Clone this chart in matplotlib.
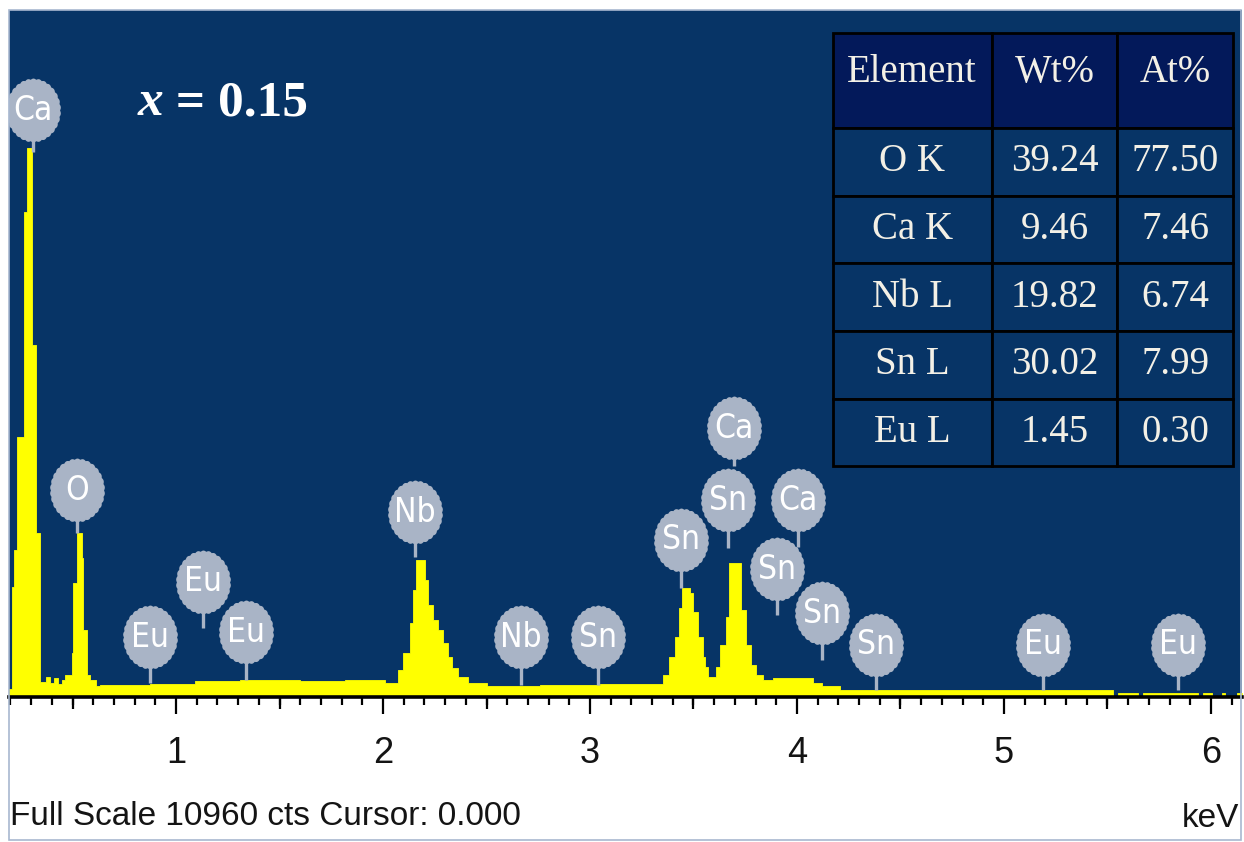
import numpy as np
import matplotlib.pyplot as plt
from matplotlib.path import Path
from matplotlib.patches import Rectangle
from matplotlib.ticker import MultipleLocator
from matplotlib.font_manager import FontProperties, fontManager
import matplotlib.transforms as mtransforms

# EDS spectrum: left edge of each step (keV) and its counts
energy_kev = [0.193, 0.208, 0.217, 0.232, 0.266, 0.280, 0.304, 0.324, 0.343, 0.372,
              0.391, 0.411, 0.430, 0.449, 0.464, 0.498, 0.502, 0.522, 0.546, 0.551,
              0.570, 0.585, 0.614, 0.633, 0.874, 1.092, 1.309, 1.599, 1.816, 2.010,
              2.072, 2.097, 2.130, 2.145, 2.159, 2.203, 2.217, 2.242, 2.266, 2.290,
              2.314, 2.333, 2.362, 2.411, 2.502, 2.758, 3.048, 3.353, 3.382, 3.411,
              3.430, 3.444, 3.483, 3.498, 3.522, 3.546, 3.556, 3.570, 3.609, 3.628,
              3.657, 3.671, 3.729, 3.754, 3.778, 3.802, 3.836, 3.884, 4.077, 4.121,
              4.208, 5.527, 5.551, 5.647, 5.671, 5.937, 5.961, 6.005, 6.053, 6.068,
              6.126, 6.150]
counts = [130, 1755, 2345, 4150, 7740, 8760, 5610, 2615, 240, 320,
          225, 305, 205, 270, 350, 700, 1820, 2615, 2215, 1070,
          350, 270, 175, 190, 205, 255, 270, 255, 270, 225,
          430, 700, 1180, 1705, 2185, 1865, 1465, 1230, 1070, 860,
          640, 465, 320, 225, 175, 190, 205, 350, 640, 955,
          1420, 1740, 1660, 1355, 955, 640, 480, 320, 480, 830,
          1275, 2135, 1390, 830, 510, 350, 270, 305, 225, 175,
          110, 0, 70, 0, 70, 0, 70, 0, 70, 0,
          70, 70]
full_scale = 10960

# peak markers: element, line energy, marker height and where the stem ends
peak_names = ["Ca", "O", "Eu", "Eu", "Eu", "Nb", "Nb", "Sn", "Sn", "Sn",
              "Ca", "Ca", "Sn", "Sn", "Sn", "Eu", "Eu"]
peak_kev = [0.309, 0.522, 0.874, 1.130, 1.338, 2.155, 2.667, 3.039, 3.440, 3.667,
            3.696, 4.005, 3.903, 4.121, 4.382, 5.188, 5.841]
label_counts = [9360, 3300, 955, 1835, 1035, 2950, 955, 955, 2505, 3140,
                4290, 3140, 2040, 1340, 830, 830, 830]
stem_end = [8690, 2615, 225, 1100, 270, 2235, 190, 190, 1740, 2380,
            3685, 2395, 1310, 590, 110, 110, 110]

# quantification table
columns = ["Element", "Wt%", "At%"]
elements = ["O K", "Ca K", "Nb L", "Sn L", "Eu L"]
wt_pct = ["39.24", "9.46", "19.82", "30.02", "1.45"]
at_pct = ["77.50", "7.46", "6.74", "7.99", "0.30"]

bg_blue = "#073466"
head_blue = "#03195a"
yellow = "#ffff00"
bubble = "#a9b4c6"
cream = "#f3f0e6"


def narrow_font():
    # prefer a condensed sans face for the peak bubbles
    wanted = ["LiberationSansNarrow-Regular", "DejaVuSansCondensed.ttf",
              "RobotoCondensed-Regular", "Roboto_Condensed-Regular",
              "OpenSans_Condensed-Regular", "OpenSansCondensed"]
    for key in wanted:
        for f in fontManager.ttflist:
            if key in f.fname:
                return FontProperties(fname=f.fname), True
    return FontProperties(family="Liberation Sans"), False


bubble_font, is_narrow = narrow_font()
bubble_font.set_size(24 if is_narrow else 20)

fig = plt.figure(figsize=(12.44, 8.42), dpi=100)
ax = fig.add_axes([9 / 1244, 1 - 697 / 842, 1233 / 1244, 687 / 842])
ax.set_facecolor(bg_blue)

ax.fill_between(energy_kev, counts, 0, step="post", facecolor=yellow,
                edgecolor=yellow, lw=0.6, zorder=2)
ax.set_xlim(0.193, 6.150)
ax.set_ylim(0, full_scale)

# scalloped bubble marker, a bit taller than wide
theta = np.linspace(0, 2 * np.pi, 241)
r = 1 + 0.035 * np.abs(np.sin(15 * theta))
bubble_path = Path(np.column_stack([0.86 * r * np.cos(theta), r * np.sin(theta)]), closed=True)

ax.vlines(peak_kev, stem_end, label_counts, color=bubble, lw=2.4, zorder=3)
ax.plot(peak_kev, label_counts, ls="none", marker=bubble_path, markersize=46,
        markerfacecolor=bubble, markeredgewidth=0, zorder=4)
for name, xk, yc in zip(peak_names, peak_kev, label_counts):
    ax.text(xk, yc, name, ha="center", va="center", color="white",
            fontproperties=bubble_font, zorder=5)

# composition label
t1 = ax.text(0.104, 0.847, "x", transform=ax.transAxes, fontsize=37,
             family="Liberation Serif", style="italic", weight="bold", color="white",
             va="baseline")
ax.annotate(" = 0.15", xy=(1, 0), xycoords=t1, va="bottom", fontsize=37,
            family="Liberation Serif", weight="bold", color="white")

# quantification table
rows = [list(r) for r in zip(elements, wt_pct, at_pct)]
widths = np.array([159, 126, 116]) / 401
tab = ax.table(cellText=rows, colLabels=columns, colWidths=list(widths),
               cellLoc="center", bbox=[0.668, 0.336, 0.325, 0.630], zorder=6)
tab.auto_set_font_size(False)
tab.set_fontsize(28)
lift = mtransforms.ScaledTranslation(0, 8 / 100, fig.dpi_scale_trans)
for (row, col), cell in tab.get_celld().items():
    cell.set_edgecolor("black")
    cell.set_linewidth(2)
    cell.set_facecolor(head_blue if row == 0 else bg_blue)
    cell.set_height(95 if row == 0 else 68)
    txt = cell.get_text()
    txt.set_color(cream)
    txt.set_fontfamily("Liberation Serif")
    if row == 0:
        txt.set_transform(txt.get_transform() + lift)

# axis styling
for side in ["left", "top", "right"]:
    ax.spines[side].set_visible(False)
ax.spines["bottom"].set_linewidth(2.6)
ax.spines["bottom"].set_color("black")
ax.set_yticks([])
ax.set_xticks(range(1, 7))
ax.xaxis.set_minor_locator(MultipleLocator(0.1))
ax.tick_params(axis="x", which="major", length=12, width=1.6, pad=16,
               labelsize=26, labelcolor="#141414")
ax.tick_params(axis="x", which="minor", length=6, width=1.6)
for lab in ax.get_xticklabels():
    lab.set_fontfamily("Liberation Sans")

half = ax.secondary_xaxis("bottom")
half.set_xticks(np.arange(0.5, 6.0, 1.0))
half.set_xticklabels([])
half.tick_params(length=8.5, width=1.6)
half.spines["bottom"].set_visible(False)

fig.text(10 / 1244, 1 - 825 / 842, "Full Scale %d cts Cursor: 0.000" % full_scale,
         fontsize=24, family="Liberation Sans", color="#141414", va="baseline")
fig.text(1239 / 1244, 1 - 827 / 842, "keV", fontsize=24, family="Liberation Sans",
         color="#141414", ha="right", va="baseline")

fig.add_artist(Rectangle((9 / 1244, 2 / 842), 1232 / 1244, 830 / 842,
                         transform=fig.transFigure, fill=False,
                         edgecolor="#a8b8d0", lw=1.2))

fig.savefig("out.png", dpi=100, facecolor="white")
